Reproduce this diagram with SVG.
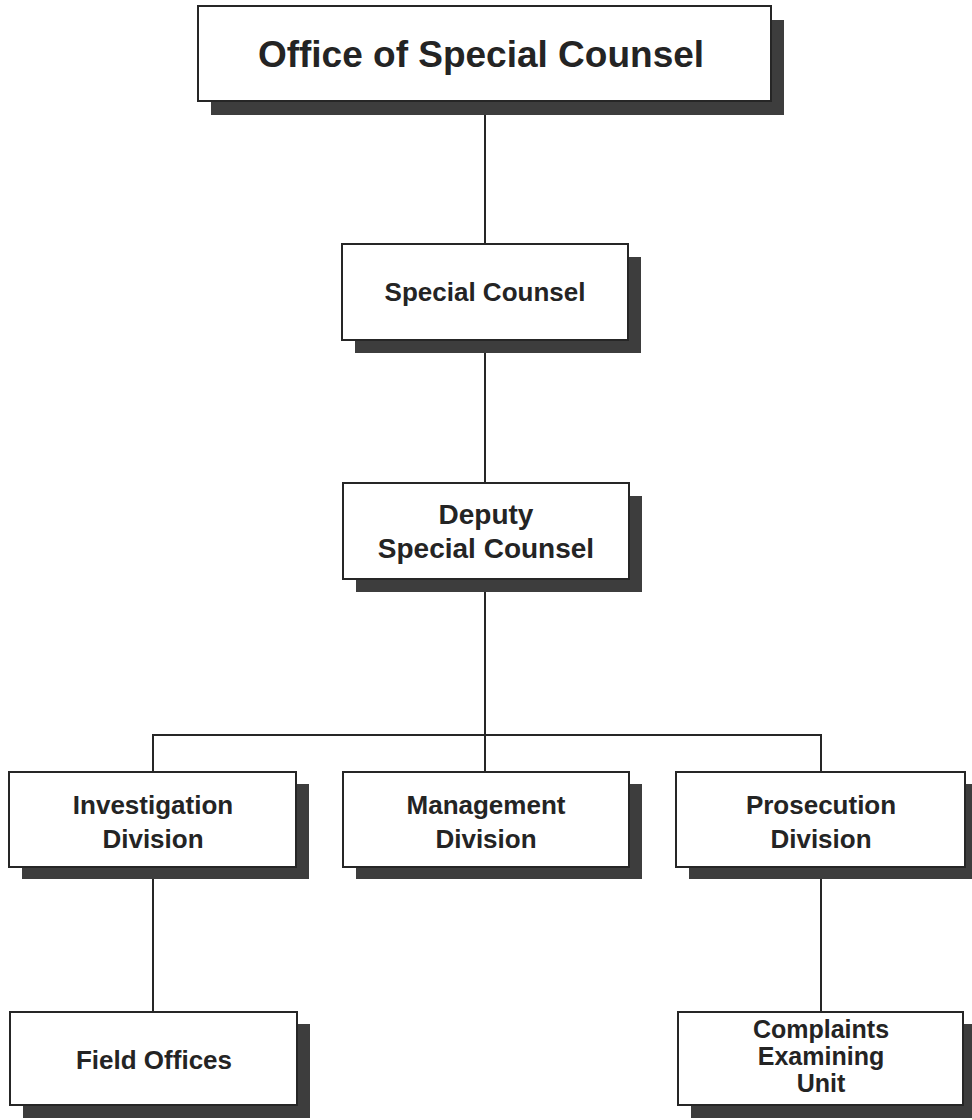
<svg xmlns="http://www.w3.org/2000/svg" width="972" height="1120" viewBox="0 0 972 1120">
<style>
.shadow{fill:#3d3d3d}
.box{fill:#ffffff;stroke:#262626;stroke-width:2}
.t{font-family:"Liberation Sans",Arial,Helvetica,sans-serif;font-weight:bold;fill:#242424;text-anchor:middle}
.title{font-size:37px}
.lbl{font-size:26px}
.lbl2{font-size:28px}
.lbl3{font-size:25px}
.conn{stroke:#262626;stroke-width:2;fill:none}
</style>
<rect width="972" height="1120" fill="#ffffff"/>
<g id="connectors">
<line class="conn" x1="485" y1="101" x2="485" y2="244"/>
<line class="conn" x1="485" y1="340" x2="485" y2="483"/>
<line class="conn" x1="485" y1="579" x2="485" y2="772"/>
<polyline class="conn" points="153,772 153,735 821,735 821,772"/>
<line class="conn" x1="153" y1="867" x2="153" y2="1012"/>
<line class="conn" x1="821" y1="867" x2="821" y2="1012"/>
</g>
<g id="office">
<rect class="shadow" x="211" y="20" width="573" height="95"/>
<rect class="box" x="198" y="6" width="573" height="95"/>
<text class="t title" x="481" y="67">Office of Special Counsel</text>
</g>
<g id="special-counsel">
<rect class="shadow" x="355" y="257" width="286" height="96"/>
<rect class="box" x="342" y="244" width="286" height="96"/>
<text class="t lbl" x="485" y="301">Special Counsel</text>
</g>
<g id="deputy">
<rect class="shadow" x="356" y="496" width="286" height="96"/>
<rect class="box" x="343" y="483" width="286" height="96"/>
<text class="t lbl2" x="486" y="524">Deputy</text>
<text class="t lbl2" x="486" y="558">Special Counsel</text>
</g>
<g id="investigation">
<rect class="shadow" x="22" y="784" width="287" height="95"/>
<rect class="box" x="9" y="772" width="287" height="95"/>
<text class="t lbl" x="153" y="814">Investigation</text>
<text class="t lbl" x="153" y="848">Division</text>
</g>
<g id="management">
<rect class="shadow" x="356" y="784" width="286" height="95"/>
<rect class="box" x="343" y="772" width="286" height="95"/>
<text class="t lbl" x="486" y="814">Management</text>
<text class="t lbl" x="486" y="848">Division</text>
</g>
<g id="prosecution">
<rect class="shadow" x="689" y="784" width="289" height="95"/>
<rect class="box" x="676" y="772" width="289" height="95"/>
<text class="t lbl" x="821" y="814">Prosecution</text>
<text class="t lbl" x="821" y="848">Division</text>
</g>
<g id="field-offices">
<rect class="shadow" x="23" y="1024" width="287" height="94"/>
<rect class="box" x="10" y="1012" width="287" height="93"/>
<text class="t lbl" x="154" y="1069">Field Offices</text>
</g>
<g id="complaints">
<rect class="shadow" x="691" y="1024" width="285" height="94"/>
<rect class="box" x="678" y="1012" width="285" height="93"/>
<text class="t lbl3" x="821" y="1038">Complaints</text>
<text class="t lbl3" x="821" y="1065">Examining</text>
<text class="t lbl3" x="821" y="1092">Unit</text>
</g>
</svg>
